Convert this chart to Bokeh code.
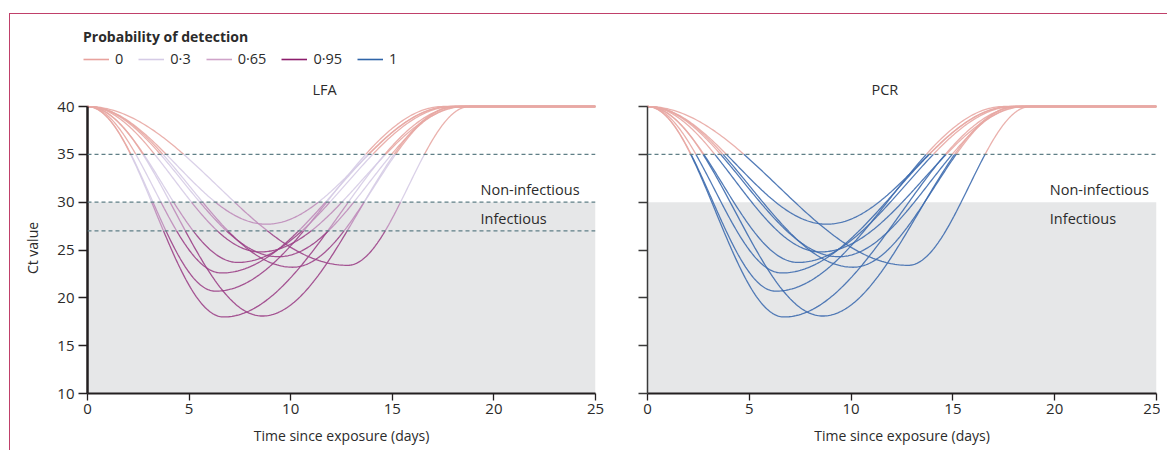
import numpy as np
from bokeh.plotting import figure
from bokeh.models import (Range1d, Label, Legend, LegendItem, Span, BoxAnnotation,
                          FixedTicker, ColumnDataSource)
from bokeh.layouts import row, column
from bokeh.embed import file_html
from bokeh.resources import INLINE

# ---------------- data ----------------
# each simulated trajectory: time of peak, Ct at peak, time Ct returns to 40
peak_day = [6.7, 8.6, 6.3, 6.6, 7.4, 10.1, 12.8, 8.5, 8.8, 9.4]
peak_ct = [18.0, 18.1, 20.7, 22.6, 23.7, 23.2, 23.4, 24.8, 27.7, 24.3]
clear_day = [18.3, 18.1, 17.5, 17.9, 18.0, 18.1, 18.8, 18.6, 17.8, 18.4]
baseline_ct = 40.0
end_day = 25.0

# detection probability bands (Ct lower bound, Ct upper bound, probability)
lfa_bands = [(35, 40, "0"), (30, 35, "0·3"), (27, 30, "0·65"), (10, 27, "0·95")]
pcr_bands = [(35, 40, "0"), (10, 35, "1")]
lfa_dashes = [35, 30, 27]
pcr_dashes = [35]
infectious_ct = 30

legend_probs = ["0", "0·3", "0·65", "0·95", "1"]
prob_colors = {"0": "#e8a29d", "0·3": "#d5cbe6", "0·65": "#cfa3c9",
               "0·95": "#8c1d6c", "1": "#2f64a8"}
line_colors = {"0": "#e8a9a4", "0·3": "#d6cce6", "0·65": "#bf8cba",
               "0·95": "#9c4388", "1": "#3f6daf"}

FONT = "Open Sans"
TXT = "#2b2b2b"


def trajectory_samples(tp, cmin, tc, thresholds):
    """times (incl. threshold crossings) and Ct for one trajectory"""
    amp = baseline_ct - cmin
    ts = list(np.linspace(0, tp, 120)) + list(np.linspace(tp, tc, 140))
    for h in thresholds:
        if cmin < h < baseline_ct:
            f = (h - cmin) / amp
            ts.append(tp * np.arccos(2 * f - 1) / np.pi)
            ts.append(tp + (tc - tp) * np.arccos(1 - 2 * f) / np.pi)
    ts = np.array(sorted(set(ts)))
    ct = np.where(ts <= tp,
                  cmin + amp * (1 + np.cos(np.pi * ts / tp)) / 2,
                  cmin + amp * (1 - np.cos(np.pi * (ts - tp) / (tc - tp))) / 2)
    ts = np.append(ts, end_day)
    ct = np.append(ct, baseline_ct)
    return ts, ct


def band_segments(bands):
    xs, ys, cols = [], [], []
    thr = [b[0] for b in bands]
    for tp, cmin, tc in zip(peak_day, peak_ct, clear_day):
        t, c = trajectory_samples(tp, cmin, tc, thr)
        for lo, hi, prob in bands:
            m = (c >= lo - 1e-9) & (c <= hi + 1e-9)
            idx = np.where(m)[0]
            if len(idx) == 0:
                continue
            runs = np.split(idx, np.where(np.diff(idx) > 1)[0] + 1)
            for r in runs:
                if len(r) < 2:
                    continue
                xs.append(list(t[r]))
                ys.append(list(c[r]))
                cols.append(line_colors[prob])
    return xs, ys, cols


def make_panel(title, bands, dashes, left, show_labels, note_x, title_offset):
    p = figure(frame_width=508 if left else 509, frame_height=291,
               x_range=Range1d(0, end_day), y_range=Range1d(10, 40.42),
               output_backend="svg", toolbar_location=None, title=title,
               min_border_left=77 if left else 20, min_border_right=32 if left else 4,
               min_border_top=32, min_border_bottom=57)
    p.outline_line_color = None
    p.grid.visible = False
    p.background_fill_color = "white"
    p.border_fill_color = "white"
    p.title.align = "left"
    p.title.offset = title_offset
    p.title.standoff = 8
    p.title.text_font = FONT
    p.title.text_font_size = "14.5px"
    p.title.text_font_style = "normal"
    p.title.text_color = TXT

    p.add_layout(BoxAnnotation(left=0, right=end_day, bottom=10, top=infectious_ct,
                               fill_color="#e6e7e8", fill_alpha=1, line_color=None,
                               level="underlay"))
    for h in dashes:
        p.add_layout(Span(location=h, dimension="width", line_color="#5f7f86",
                          line_width=1.3, line_dash="4 3", level="overlay"))

    xs, ys, cols = band_segments(bands)
    src = ColumnDataSource(dict(xs=xs, ys=ys, c=cols))
    p.multi_line("xs", "ys", source=src, line_color="c", line_width=1.3, line_alpha=0.9)

    # axes
    p.xaxis.ticker = FixedTicker(ticks=[0, 5, 10, 15, 20, 25])
    p.yaxis.ticker = FixedTicker(ticks=[10, 15, 20, 25, 30, 35, 40])
    p.yaxis.bounds = (10, 40)
    for ax in (p.xaxis[0], p.yaxis[0]):
        ax.axis_line_color = "#231f20"
        ax.major_tick_line_color = "#231f20"
        ax.major_tick_in = 0
        ax.minor_tick_line_color = None
        ax.major_label_text_font = FONT
        ax.major_label_text_font_size = "15px"
        ax.major_label_text_color = TXT
        ax.axis_label_text_font = FONT
        ax.axis_label_text_font_size = "14px"
        ax.axis_label_text_font_style = "normal"
        ax.axis_label_text_color = TXT
    p.xaxis.axis_line_width = 2
    p.xaxis.major_tick_line_width = 1.3
    p.xaxis.major_tick_out = 7
    p.xaxis.major_label_standoff = 3
    p.xaxis.axis_label = "Time since exposure (days)"
    p.xaxis.axis_label_standoff = 9
    p.yaxis.major_tick_out = 9
    p.yaxis.major_tick_line_width = 1.3
    p.yaxis.major_label_standoff = 4
    if show_labels:
        p.yaxis.axis_line_width = 2.5
        p.yaxis.axis_label = "Ct value"
        p.yaxis.axis_label_standoff = 12
    else:
        p.yaxis.axis_line_width = 1.5
        p.yaxis.axis_line_color = "#3a3a3a"
        p.yaxis.major_tick_line_color = "#3a3a3a"
        p.yaxis.major_label_overrides = {v: "" for v in [10, 15, 20, 25, 30, 35, 40]}

    p.add_layout(Label(x=note_x, y=31.35, text="Non-infectious", text_align="left",
                       text_baseline="middle", text_font=FONT, text_font_size="14.5px",
                       text_color=TXT))
    p.add_layout(Label(x=note_x, y=28.27, text="Infectious", text_align="left",
                       text_baseline="middle", text_font=FONT, text_font_size="14.5px",
                       text_color=TXT))
    return p


p1 = make_panel("LFA", lfa_bands, lfa_dashes, True, True, 19.34, 225)
p2 = make_panel("PCR", pcr_bands, pcr_dashes, False, False, 19.76, 224)

# legend header: its own small figure, legend inside its frame
header = figure(width=1157, height=56, x_range=Range1d(0, 1), y_range=Range1d(0, 1),
                x_axis_type=None, y_axis_type=None, output_backend="svg",
                toolbar_location=None, min_border=0)
header.outline_line_color = None
header.grid.visible = False
items = []
for prob in legend_probs:
    r = header.line([-5, -4], [-5, -5], line_color=prob_colors[prob], line_width=1.6)
    items.append(LegendItem(label=prob, renderers=[r]))
leg = Legend(items=items, orientation="horizontal", location=(73, 2),
             title="Probability of detection", title_text_font=FONT,
             title_text_font_size="14px", title_text_font_style="bold",
             title_text_color=TXT, title_standoff=3,
             label_text_font=FONT, label_text_font_size="14.5px", label_text_color=TXT,
             glyph_width=26, glyph_height=14, label_standoff=6, spacing=15,
             label_width=0, padding=0, margin=0, border_line_color=None,
             background_fill_alpha=0)
header.add_layout(leg, "center")

layout = column(header, row(p1, p2),
                styles={"border-top": "1px solid #c0406a",
                        "border-left": "1px solid #c0406a",
                        "margin-top": "13px", "margin-left": "9px"})

open("out.html", "w").write(file_html(layout, INLINE))
